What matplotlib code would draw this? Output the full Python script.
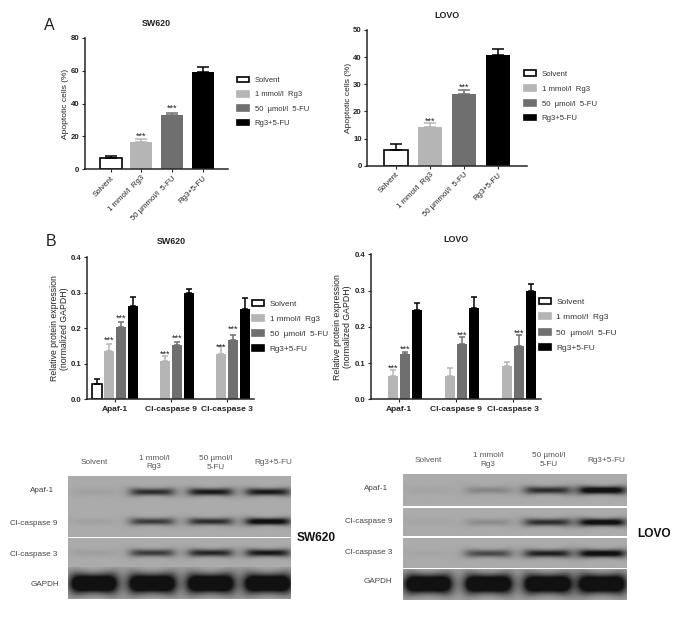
import numpy as np
import matplotlib
matplotlib.use("Agg")
import matplotlib.pyplot as plt
from matplotlib.patches import Patch

plt.rcParams['font.family'] = ['Liberation Sans', 'DejaVu Sans']

W, H = 694, 618

# panel A
groups_a = ["Solvent", "1 mmol/l  Rg3", "50 \u00b5mmol/l  5-FU", "Rg3+5-FU"]
sw_a_values = [6.5, 16.5, 33, 59]
sw_a_err = [1.5, 1.7, 1.2, 3]
sw_a_stars = [None, 17.7, 34.5, None]
lo_a_values = [5.8, 14.2, 26.4, 40.8]
lo_a_err = [2.1, 1.6, 1.5, 2.2]
lo_a_stars = [None, 15, 27.5, None]

# panel B, one list per treatment
proteins = ["Apaf-1", "Cl-caspase 9", "Cl-caspase 3"]
sw_b_values = [[0.042, None, None], [0.135, 0.108, 0.128], [0.205, 0.152, 0.168], [0.262, 0.30, 0.255]]
sw_b_err = [[0.016, 0, 0], [0.02, 0.014, 0.022], [0.014, 0.009, 0.014], [0.025, 0.01, 0.03]]
sw_b_stars = [[None, None, None], [0.155, 0.1155, 0.137], [0.216, 0.16, 0.186], [None, None, None]]
lo_b_values = [[None, None, None], [0.065, 0.065, 0.092], [0.125, 0.152, 0.148], [0.245, 0.252, 0.298]]
lo_b_err = [[0, 0, 0], [0.015, 0.022, 0.01], [0.005, 0.02, 0.03], [0.02, 0.029, 0.02]]
lo_b_stars = [[None, None, None], [0.075, None, None], [0.128, 0.165, 0.172], [None, None, None]]

legend_a = ["Solvent", "1 mmol/l  Rg3", "50  \u00b5mol/l  5-FU", "Rg3+5-FU"]
legend_b_sw = ["Solvent", "1 mmol/l  Rg3", "50  \u00b5mol/l  5-FU", "Rg3+5-FU"]

# western blots: band strength for each lane, rows in order of blot_rows
blot_rows = ["Apaf-1", "Cl-caspase 9", "Cl-caspase 3", "GAPDH"]
blot_lanes_sw = ["Solvent", "1 mmol/l\nRg3", "50 \u00b5mol/l\n5-FU", "Rg3+5-FU"]
sw_bands = [[0.07, 0.85, 1.0, 1.0], [0.06, 0.75, 0.85, 1.2], [0.08, 0.75, 0.9, 1.0], [1.8, 1.8, 1.8, 1.8]]
lo_bands = [[0.05, 0.25, 0.85, 1.3], [0.04, 0.2, 0.85, 1.2], [0.04, 0.65, 0.95, 1.2], [1.8, 1.8, 1.8, 1.8]]

FILL = ["white", "#b5b5b5", "#6f6f6f", "black"]
EDGE = ["black", "#b5b5b5", "#6f6f6f", "black"]
AXC = "#262626"


def make_axes(left, top, right, bottom):
    ax = fig.add_axes([left / W, 1 - bottom / H, (right - left) / W, (bottom - top) / H])
    ax.patch.set_alpha(0)
    ax.spines["top"].set_visible(False)
    ax.spines["right"].set_visible(False)
    ax.spines["left"].set_linewidth(1.1)
    ax.spines["bottom"].set_linewidth(1.1)
    ax.spines["left"].set_color(AXC)
    ax.spines["bottom"].set_color(AXC)
    ax.tick_params(width=0.8, length=2.5, color=AXC, pad=1.5)
    return ax


def draw_bar(ax, x, value, err, star, i, width, cap):
    if value is None:
        return
    lw = 1.2 if i == 0 else 0
    ax.bar(x, value, width, facecolor=FILL[i], edgecolor=EDGE[i], linewidth=lw)
    ax.errorbar(x, value, yerr=[[0], [err]], ecolor=EDGE[i], elinewidth=1.1, capsize=cap, capthick=1.1, fmt="none")
    if star is not None:
        ax.annotate("***", (x, star), xytext=(0, 1), textcoords="offset points", ha="center", va="baseline",
                    fontsize=6.6, color="#222222")


def add_legend(ax, labels, hx, y0, pitch, fs):
    handles = [Patch(facecolor=FILL[i], edgecolor=EDGE[i], linewidth=1.2) for i in range(4)]
    fpx = fs * 100 / 72
    ax.legend(handles, labels, loc="upper left", bbox_to_anchor=(hx, y0 - 3.5), bbox_transform=over.transData,
              frameon=False, borderpad=0, borderaxespad=0, fontsize=fs, handlelength=12 / fpx, handleheight=6 / fpx,
              handletextpad=5.5 / fpx, labelspacing=(pitch - fpx * 0.85) / fpx, labelcolor="#333333")


def panel_a(box, values, err, stars, centers, width, ymax, step, title, title_xy, legend_pos):
    left, top, right, bottom = box
    ax = make_axes(left, top, right, bottom)
    for i in range(4):
        draw_bar(ax, i, values[i], err[i], stars[i], i, width, 4.0)
    ax.set_xlim(centers)
    ax.set_ylim(0, ymax)
    ax.set_yticks(np.arange(0, ymax + 1, step))
    ax.set_xticks(range(4))
    ax.set_xticklabels(groups_a, rotation=45, ha="right", rotation_mode="anchor", fontsize=5.6, color="#222222")
    plt.setp(ax.get_yticklabels(), fontsize=5.6, fontweight="bold", color="#222222")
    ax.set_ylabel("Apoptotic cells (%)", fontsize=6.0, labelpad=1, color="#222222")
    over.text(title_xy[0], title_xy[1], title, ha="center", va="center", fontsize=6.4, fontweight="bold", color="#222222")
    add_legend(ax, legend_a, *legend_pos)
    return ax


def panel_b(box, values, err, stars, xlim, gap, title, title_xy, legend_pos):
    left, top, right, bottom = box
    ax = make_axes(left, top, right, bottom)
    for i in range(4):
        for g in range(3):
            draw_bar(ax, g * gap + i, values[i][g], err[i][g], stars[i][g], i, 0.8, 2.4)
    ax.set_xlim(xlim)
    ax.set_ylim(0, 0.4)
    ax.set_yticks([0, 0.1, 0.2, 0.3, 0.4])
    ax.set_yticklabels(["0.0", "0.1", "0.2", "0.3", "0.4"], fontsize=5.6, fontweight="bold", color="#222222")
    ax.set_xticks([g * gap + 1.5 for g in range(3)])
    ax.set_xticklabels(proteins, fontsize=6.0, fontweight="bold", color="#222222")
    ax.tick_params(axis="x", pad=2.5)
    ax.set_ylabel("Relative protein expression\n(normalized GAPDH)", fontsize=6.3, labelpad=1.5, color="#222222")
    over.text(title_xy[0], title_xy[1], title, ha="center", va="center", fontsize=6.4, fontweight="bold", color="#222222")
    add_legend(ax, legend_b_sw, *legend_pos)
    return ax


def blot(rows, lanes, bands, band_y, thick, halfw, bg):
    x0, x1 = lanes[0][0], lanes[0][1]
    for r, (top, bottom) in enumerate(rows):
        xs = np.arange(x0, x1, 0.5)
        ys = np.arange(top, bottom, 0.5)
        xx, yy = np.meshgrid(xs, ys)
        dark = np.zeros_like(xx)
        for k, xc in enumerate(lanes[1]):
            u = (xx - xc) / halfw[r]
            win = 1 / (1 + np.exp((np.abs(u) - 1) * 6))
            t = thick[r] * (1 + 0.3 * u ** 2)
            dark += bands[r][k] * win * np.exp(-((yy - band_y[r]) / t) ** 2)
        dark = np.clip(dark, 0, 1)
        img = bg * (1 - dark) + 0.07 * dark
        over.imshow(img, extent=[x0, x1, bottom, top], cmap="gray", vmin=0, vmax=1, aspect="auto",
                    interpolation="bilinear", zorder=1)


def blot_text(lane_x, lane_y, row_x, row_y, name, name_xy):
    for x, y, s in zip(lane_x, lane_y, blot_lanes_sw):
        over.text(x, y, s, ha="center", va="center", fontsize=5.9, color="#555555", linespacing=1.25)
    for x, y, s in zip(row_x, row_y, blot_rows):
        over.text(x, y, s, ha="center", va="center", fontsize=5.9, color="#444444")
    over.text(name_xy[0], name_xy[1], name, ha="left", va="center", fontsize=8.6, fontweight="bold", color="#111111")


fig = plt.figure(figsize=(W / 100, H / 100), dpi=100, facecolor="white")

# overlay in pixel coordinates for the blots and free text
over = fig.add_axes([0, 0, 1, 1], zorder=0)
over.set_xlim(0, W)
over.set_ylim(H, 0)
over.axis("off")

over.text(43.5, 25, "A", fontsize=11.5, ha="left", va="center", color="#222222")
over.text(45.5, 242, "B", fontsize=11.5, ha="left", va="center", color="#222222")

panel_a((85, 38, 228, 169), sw_a_values, sw_a_err, sw_a_stars, (-0.84, 3.83), 0.72, 80, 20, "SW620", (156.5, 23), (237.3, 80, 13.3, 5.5))
panel_a((367.3, 30, 527, 165.7), lo_a_values, lo_a_err, lo_a_stars, (-0.844, 3.85), 0.7, 50, 10, "LOVO", (447, 15), (524.3, 74, 13.7, 5.6))
panel_b((87.3, 257.3, 254, 399.3), sw_b_values, sw_b_err, sw_b_stars, (-0.81, 13.08), 4.67, "SW620", (171, 241), (252.3, 303.3, 14.3, 5.9))
panel_b((370.7, 254.3, 541, 399.3), lo_b_values, lo_b_err, lo_b_stars, (-0.86, 13.33), 4.75, "LOVO", (456, 239), (539, 301.3, 14.7, 6.0))

blot([(476, 505.7), (506.7, 537), (538.3, 566.7), (568, 599.3)], ((67.7, 290.7), (93.3, 151.7, 210, 267.3)), sw_bands,
     [491.7, 521.7, 552.7, 584], [3.4, 3.2, 3.4, 8.5], [21, 21, 21, 22], 0.67)
blot([(474, 505.7), (508.3, 536), (538.3, 567.7), (569.3, 600)], ((403.3, 626.7), (428.3, 488.3, 547.3, 601.7)), lo_bands,
     [490, 522.3, 553.3, 584], [3.5, 3.4, 3.5, 8.5], [22, 22, 22, 22], 0.67)
over.set_xlim(0, W)
over.set_ylim(H, 0)

blot_text([94.3, 154.3, 215.7, 273], [463, 462.7, 463, 462.3], [42.3, 34, 34, 45], [490.7, 523.5, 554, 584], "SW620", (296.7, 538))
blot_text([428.7, 488.3, 549, 606.7], [460.3, 460, 460, 460], [376, 369, 369, 378], [488.3, 521.7, 552, 581.3], "LOVO", (637.3, 534))

fig.savefig("out.png", dpi=100)
